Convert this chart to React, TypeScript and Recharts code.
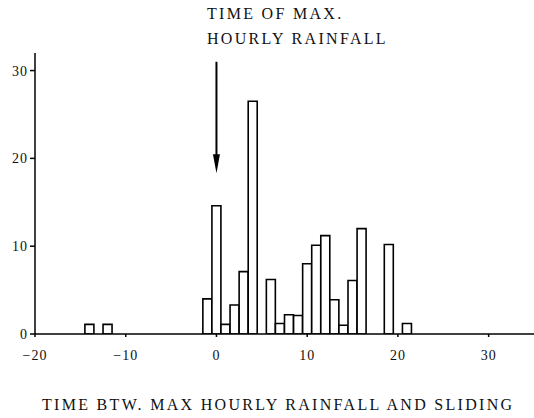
import { BarChart, Bar, XAxis, YAxis, ReferenceLine } from 'recharts';

// hours between max hourly rainfall and sliding (bin centres)
const hours = [-14, -12, -1, 0, 1, 2, 3, 4, 6, 7, 8, 9, 10, 11, 12, 13, 14, 15, 16, 19, 21];
const counts = [1.1, 1.1, 4, 14.6, 1.1, 3.3, 7.1, 26.5, 6.2, 1.2, 2.2, 2.1, 8, 10.1, 11.2, 3.9, 1, 6.1, 12, 10.2, 1.2];

const xTicks = [-20, -10, 0, 10, 20, 30];
const yTicks = [0, 10, 20, 30];

const titleTop = ['TIME OF MAX.', 'HOURLY RAINFALL'];
const titleBottom = 'TIME BTW. MAX HOURLY RAINFALL AND SLIDING';

const font = "'Liberation Serif', 'Times New Roman', serif";

const data = hours.map((h, i) => ({ h, n: counts[i] }));

const fmt = (v) => (v < 0 ? '\u2212' + Math.abs(v) : String(v));

const Arrow = (props) => {
    const { x1, y1, x2, y2 } = props;
    return (
        <g>
            <line x1={x1} y1={y1} x2={x2} y2={y2 - 14} stroke="#000" strokeWidth={2} />
            <polygon points={`${x2 - 3.5},${y2 - 19} ${x2 + 3.5},${y2 - 19} ${x2},${y2}`} fill="#000" />
        </g>
    );
};

export default function App() {
    const textStyle = {
        position: 'absolute',
        fontFamily: font,
        fontSize: 16,
        letterSpacing: 2.3,
        lineHeight: '16px',
        whiteSpace: 'nowrap',
        color: '#111',
    } as const;

    return (
        <div style={{ position: 'absolute', left: 0, top: 0, width: 534, height: 418, background: '#fff' }}>
            <div style={{ ...textStyle, left: 207, top: 6 }}>{titleTop[0]}</div>
            <div style={{ ...textStyle, left: 207, top: 31 }}>{titleTop[1]}</div>
            <div style={{ ...textStyle, left: 42, top: 397 }}>{titleBottom}</div>
            <BarChart
                width={534}
                height={418}
                data={data}
                margin={{ top: 53, right: 0, bottom: 0, left: 0 }}
                barCategoryGap={0}
                barGap={0}
                style={{ fontFamily: font }}
            >
                <XAxis
                    dataKey="h"
                    type="number"
                    domain={[-20, 35]}
                    ticks={xTicks}
                    tickFormatter={fmt}
                    height={84}
                    allowDataOverflow
                    axisLine={{ stroke: '#000', strokeWidth: 1.5 }}
                    tickLine={{ stroke: '#000', strokeWidth: 1.5 }}
                    tickSize={3}
                    tickMargin={13}
                    tick={{ fill: '#111', fontFamily: font, fontSize: 14, letterSpacing: 1 }}
                />
                <YAxis
                    type="number"
                    domain={[0, 32]}
                    ticks={yTicks}
                    width={35}
                    allowDataOverflow
                    axisLine={{ stroke: '#000', strokeWidth: 1.5 }}
                    tickLine={{ stroke: '#000', strokeWidth: 1.5 }}
                    tickSize={5}
                    tickMargin={2}
                    tick={{ fill: '#111', fontFamily: font, fontSize: 14, letterSpacing: 1 }}
                />
                <Bar dataKey="n" fill="#fff" stroke="#000" strokeWidth={1.6} barSize={9} isAnimationActive={false} />
                <ReferenceLine
                    segment={[{ x: 0, y: 31 }, { x: 0, y: 18.3 }]}
                    shape={Arrow}
                    ifOverflow="visible"
                />
            </BarChart>
        </div>
    );
}
